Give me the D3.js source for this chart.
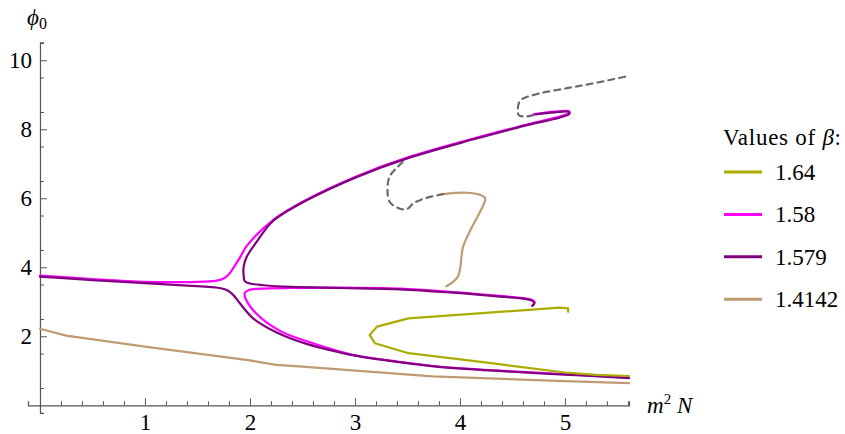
<!DOCTYPE html>
<html>
<head>
<meta charset="utf-8">
<script src="https://d3js.org/d3.v7.min.js"></script>
<style>
  body { margin: 0; background: #fff; }
  svg text { font-family: "Liberation Serif", "DejaVu Serif", serif; }
</style>
</head>
<body>
<div id="chart"></div>
<script>
// curves, [m^2 N, phi0]
var olive164 = [[5.03,2.71],[5.03,2.81],[4.95,2.83],[3.51,2.52],[3.21,2.28],[3.14,2.04],[3.19,1.80],
  [3.51,1.51],[4.3,1.22],[5.0,0.95],[5.3,0.88],[5.61,0.85]];

var magentaA = [[0,3.76],[0.5,3.66],[1,3.58],[1.4,3.57],[1.65,3.60],[1.74,3.66],[1.80,3.80],[1.85,4.02],
  [1.91,4.31],[1.97,4.62],[2.22,5.37],[2.54,5.96],[3.02,6.64],[3.49,7.17],[4.13,7.73],[4.6,8.11],
  [5.03,8.46],[5.04,8.52],[4.9,8.51],[4.70,8.43]];
var magentaB = [[4.69,2.90],[4.71,2.99],[4.67,3.07],[4.38,3.17],[3.9,3.29],[3.43,3.38],[2.86,3.41],
  [2.4,3.40],[2.1,3.38],[1.99,3.34],[1.95,3.25],[1.96,3.08],[2.06,2.66],[2.29,2.15],[2.60,1.80],
  [3.0,1.45],[3.4,1.27],[3.75,1.14],[4.4,1.00],[5,0.90],[5.61,0.80]];

var purpleA = [[0,3.73],[0.5,3.63],[1,3.54],[1.4,3.47],[1.71,3.40],[1.78,3.34],[1.84,3.20],[1.90,2.97],
  [2.03,2.52],[2.25,2.12],[2.54,1.78],[2.86,1.53],[3.0,1.44],[3.4,1.26],[3.75,1.13],[4.4,0.99],
  [5,0.89],[5.61,0.79]];
var purpleB = [[4.69,2.88],[4.71,2.97],[4.67,3.05],[4.38,3.15],[3.9,3.27],[3.43,3.36],[2.86,3.40],
  [2.4,3.43],[2.13,3.48],[2.0,3.53],[1.95,3.60],[1.94,3.75],[1.94,4.02],[1.97,4.31],[2.06,4.72],
  [2.22,5.34],[2.54,5.94],[3.02,6.62],[3.49,7.15],[4.13,7.71],[4.6,8.09],[5.04,8.44],[5.04,8.50],
  [4.9,8.49],[4.72,8.43]];

var tanLow = [[0,2.22],[0.25,2.02],[1,1.70],[2,1.30],[2.25,1.17],[2.5,1.12],[3.74,0.84],[5,0.70],[5.61,0.64]];
var tanUp = [[3.87,3.45],[3.98,3.73],[4.03,4.6],[4.1,5.08],[4.23,5.85],[4.24,6.0],[4.19,6.1],[4.06,6.16],[3.84,6.12]];

var greyA = [[3.84,6.12],[3.68,6.01],[3.56,5.86],[3.49,5.68],[3.41,5.72],[3.33,5.90],[3.31,6.24],
  [3.33,6.63],[3.41,6.92],[3.49,7.15]];
var greyB = [[4.70,8.41],[4.62,8.37],[4.56,8.41],[4.56,8.75],[4.59,8.87],[4.76,9.04],[5.02,9.19],
  [5.27,9.33],[5.60,9.54]];

var betaLabels = ["1.64", "1.58", "1.579", "1.4142"];
var xTicks = [1, 2, 3, 4, 5];
var yTicks = [2, 4, 6, 8, 10];

var colors = {"1.64": "#abab00", "1.58": "#ff00ff", "1.579": "#800080", "1.4142": "#c09a72"};

var W = 845, H = 434;
var fs = 23;
var svg = d3.select("#chart").append("svg")
    .attr("width", W)
    .attr("height", H);

var x = d3.scaleLinear().domain([-0.114, 5.61]).range([28, 629]);
var y = d3.scaleLinear().domain([-0.22, 10.52]).range([412.9, 42.3]);

// axes
var axisColor = "#555";
var xMinor = d3.range(0, 5.61, 0.2).filter(function(v) { return Math.abs(v - Math.round(v)) > 0.01; });
var yMinor = d3.range(0.5, 10.6, 1);

var gx = svg.append("g").attr("transform", "translate(0," + y(0) + ")");
gx.call(d3.axisBottom(x).tickValues(xMinor).tickSize(-4).tickFormat(""));
gx.append("g").call(d3.axisBottom(x).tickValues(xTicks).tickSize(-7).tickPadding(8).tickFormat(d3.format("d")));

var gy = svg.append("g").attr("transform", "translate(" + x(0) + ",0)");
gy.call(d3.axisLeft(y).tickValues(yMinor).tickSize(-4).tickFormat(""));
gy.append("g").call(d3.axisLeft(y).tickValues(yTicks).tickSize(-7).tickPadding(8).tickFormat(d3.format("d")));

svg.selectAll(".domain").attr("stroke", axisColor).attr("stroke-width", 1.2);
svg.selectAll(".tick line").attr("stroke", axisColor);
svg.selectAll(".tick text").attr("font-size", fs).attr("fill", "#000")
    .attr("font-family", "Liberation Serif, DejaVu Serif, serif");
gy.selectAll(".domain").filter(function(d, i) { return i > 0; }).remove();
gx.selectAll(".domain").filter(function(d, i) { return i > 0; }).remove();

// curves
var smooth = d3.line().x(function(d) { return x(d[0]); }).y(function(d) { return y(d[1]); })
    .curve(d3.curveCatmullRom.alpha(0.5));
var straight = d3.line().x(function(d) { return x(d[0]); }).y(function(d) { return y(d[1]); });

function draw(data, gen, color, dash) {
  svg.append("path")
    .attr("d", gen(data))
    .attr("fill", "none")
    .attr("stroke", color)
    .attr("stroke-width", 2.2)
    .attr("stroke-linejoin", "round")
    .attr("stroke-linecap", "round")
    .attr("stroke-dasharray", dash || null);
}

draw(tanLow, straight, colors["1.4142"]);
draw(tanUp, smooth, colors["1.4142"]);
draw(greyA, smooth, "#6a6a6a", "6,5");
draw(greyB, smooth, "#6a6a6a", "6,5");
draw(magentaA, smooth, colors["1.58"]);
draw(magentaB, smooth, colors["1.58"]);
draw(purpleA, smooth, colors["1.579"]);
draw(purpleB, smooth, colors["1.579"]);
draw(olive164, straight, colors["1.64"]);

// axis labels
var yl = svg.append("text").attr("x", 27).attr("y", 25).attr("font-size", fs);
yl.append("tspan").attr("font-style", "italic").text("\u03d5");
yl.append("tspan").attr("font-size", 16).attr("dy", 4).text("0");

var xl = svg.append("text").attr("x", 647).attr("y", 413).attr("font-size", fs);
xl.append("tspan").attr("font-style", "italic").text("m");
xl.append("tspan").attr("font-size", 15).attr("dy", -9).text("2");
xl.append("tspan").attr("dy", 9).text(" ");
xl.append("tspan").attr("font-style", "italic").text("N");

// legend
var title = svg.append("text").attr("x", 723).attr("y", 145).attr("font-size", fs)
    .attr("textLength", 118).attr("lengthAdjust", "spacing");
title.append("tspan").text("Values of ");
title.append("tspan").attr("font-style", "italic").text("\u03b2");
title.append("tspan").text(":");

var leg = svg.selectAll(".leg").data(betaLabels).enter().append("g")
    .attr("transform", function(d, i) { return "translate(724," + (172 + i * 42.4) + ")"; });
leg.append("line").attr("x1", 0).attr("x2", 38)
    .attr("stroke", function(d) { return colors[d]; }).attr("stroke-width", 3);
leg.append("text").attr("x", 51).attr("y", 8).attr("font-size", fs).text(function(d) { return d; });
</script>
</body>
</html>
